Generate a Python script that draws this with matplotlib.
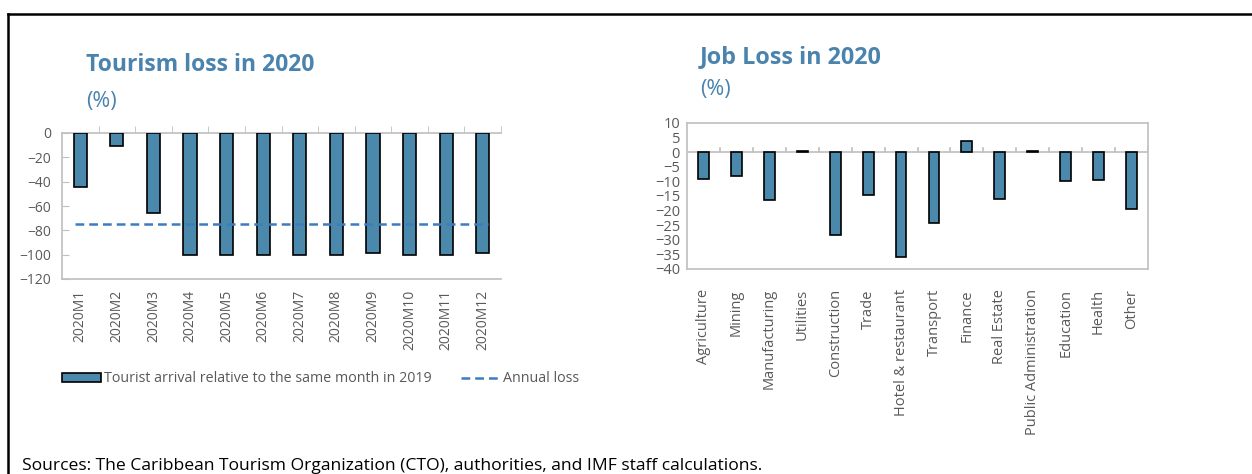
import matplotlib
matplotlib.use("Agg")
import matplotlib.pyplot as plt
from matplotlib.lines import Line2D
from matplotlib.patches import Patch
import numpy as np

plt.rcParams['font.family'] = ['Open Sans', 'DejaVu Sans']

months = ["2020M1", "2020M2", "2020M3", "2020M4", "2020M5", "2020M6",
          "2020M7", "2020M8", "2020M9", "2020M10", "2020M11", "2020M12"]
tourist_arrivals = [-44, -10.5, -66, -100, -100, -100, -100, -100, -99, -100, -100, -99]
annual_loss = -74.5

sectors = ["Agriculture", "Mining", "Manufacturing", "Utilities", "Construction", "Trade",
           "Hotel & restaurant", "Transport", "Finance", "Real Estate",
           "Public Administration", "Education", "Health", "Other"]
job_loss = [-9.2, -8.3, -16.4, 0.4, -28.3, -14.7, -35.8, -24.1, 3.7, -15.9, 0.4, -10.0, -9.4, -19.4]

BAR = "#4A89AC"
LINE = "#3C7DBF"
TITLE = "#4A83AE"
GRAY = "#BFBFBF"
TXT = "#595959"

W, H = 1252, 474
fig = plt.figure(figsize=(W / 100, H / 100), dpi=100)

def box(x0, y_top, w, h):
    return [x0 / W, 1 - (y_top + h) / H, w / W, h / H]

# ---- Left chart ----
ax1 = fig.add_axes(box(62, 133, 439, 146))
x1 = np.arange(len(months))
ax1.bar(x1, tourist_arrivals, width=0.36, color=BAR, edgecolor="black", linewidth=1.2, zorder=3)
ax1.plot([x1[0] - 0.15, x1[-1] + 0.15], [annual_loss, annual_loss], color=LINE,
         linestyle=(0, (3.5, 2)), linewidth=1.8, zorder=4)
ax1.set_xlim(-0.5, len(months) - 0.5)
ax1.set_ylim(-120, 0)
ax1.set_yticks(np.arange(-120, 1, 20))
ax1.set_xticks(x1)
ax1.set_xticklabels(months, rotation=90, fontsize=10, color=TXT)
ax1.tick_params(axis='x', length=0, pad=8)
ax1.tick_params(axis='y', direction='in', length=5, color=GRAY, labelsize=10, labelcolor=TXT, pad=8)
ax1.set_xticks(np.arange(0.5, len(months) - 0.4, 1), minor=True)
ax1.tick_params(axis='x', which='minor', direction='out', top=True, bottom=False, length=5, color=GRAY)
for s in ['left', 'bottom', 'top']:
    ax1.spines[s].set_color(GRAY)
    ax1.spines[s].set_linewidth(1.2)
ax1.spines['right'].set_visible(False)

fig.text(86 / W, 1 - 65 / H, "Tourism loss in 2020", fontsize=16.5, fontweight='bold', color=TITLE, va='center')
fig.text(86 / W, 1 - 101 / H, "(%)", fontsize=15.5, color=TITLE, va='center')

handles = [Patch(facecolor=BAR, edgecolor='black', linewidth=1.2),
           Line2D([0], [0], color=LINE, linestyle=(0, (3.5, 2)), linewidth=1.8)]
labels = ["Tourist arrival relative to the same month in 2019", "Annual loss"]
fig.legend(handles, labels, loc='center left', bbox_to_anchor=(62 / W, 1 - 379 / H), ncol=2,
           frameon=False, fontsize=10.3, labelcolor=TXT, handlelength=2.75, handleheight=0.55,
           handletextpad=0.2, columnspacing=2.0, borderpad=0, borderaxespad=0)

# ---- Right chart ----
ax2 = fig.add_axes(box(687, 123, 461, 146))
x2 = np.arange(len(sectors))
ax2.bar(x2, job_loss, width=0.33, color=BAR, edgecolor="black", linewidth=1.2, zorder=3)
ax2.axhline(0, color=GRAY, linewidth=1.2, zorder=2)
ax2.set_xlim(-0.5, len(sectors) - 0.5)
ax2.set_ylim(-40, 10)
ax2.set_yticks(np.arange(-40, 11, 5))
ax2.set_xticks(x2)
ax2.set_xticklabels(sectors, rotation=90, fontsize=10.5, color=TXT)
ax2.tick_params(axis='x', length=0, pad=14.5)
ax2.tick_params(axis='y', length=0, labelsize=10.5, labelcolor=TXT, pad=5)
for s in ax2.spines.values():
    s.set_color(GRAY)
    s.set_linewidth(1.2)
for xb in np.arange(0.5, len(sectors) - 0.4, 1):
    ax2.plot([xb, xb], [0, 1.6], color=GRAY, linewidth=1.2, zorder=2)

fig.text(700 / W, 1 - 57 / H, "Job Loss in 2020", fontsize=16.8, fontweight='bold', color=TITLE, va='center')
fig.text(700 / W, 1 - 89 / H, "(%)", fontsize=15.5, color=TITLE, va='center')

# ---- Source & border ----
fig.text(22 / W, 1 - 466 / H, "Sources: The Caribbean Tourism Organization (CTO), authorities, and IMF staff calculations.",
         fontsize=12.6, color='black', va='center')
fig.add_artist(Line2D([7.5 / W, 7.5 / W], [0, 1 - 13.5 / H], color='black', linewidth=1.8, transform=fig.transFigure))
fig.add_artist(Line2D([7.5 / W, 1], [1 - 13.5 / H, 1 - 13.5 / H], color='black', linewidth=1.8, transform=fig.transFigure))

fig.savefig("out.png", dpi=100)
